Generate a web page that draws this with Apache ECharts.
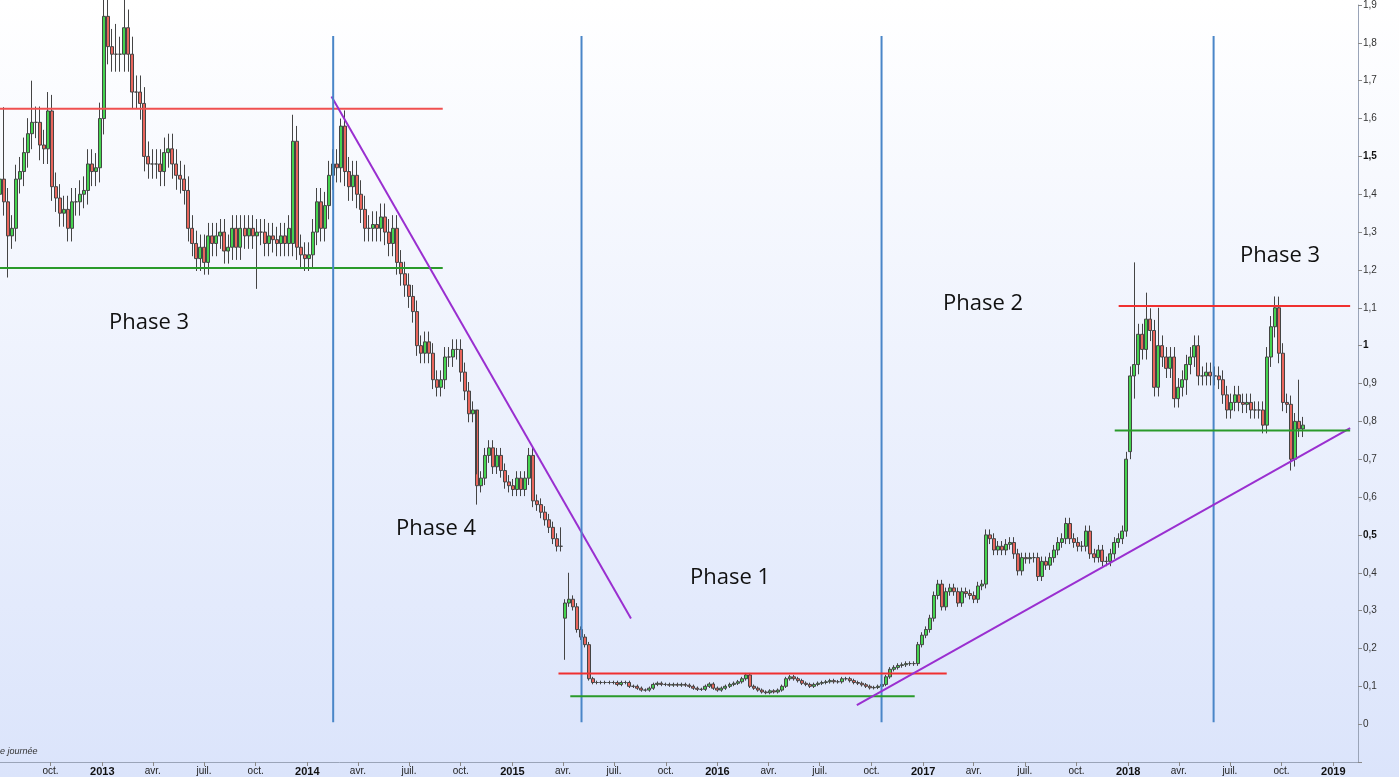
<!DOCTYPE html>
<html><head><meta charset="utf-8">
<script src="https://cdn.jsdelivr.net/npm/echarts@6/dist/echarts.min.js"></script>
<style>html,body{margin:0;padding:0;}#c{width:1399px;height:777px;background:linear-gradient(#ffffff,#dbe4fb);}</style>
</head><body><div id="c"></div>
<script>
const startDate = '2012-07-03';
const stepDays = 7.134;
const closes = [1.44,1.38,1.29,1.31,1.44,1.46,1.51,1.56,1.59,1.59,1.53,1.52,1.62,1.42,1.39,1.35,1.36,1.31,1.38,1.38,
1.40,1.41,1.48,1.46,1.47,1.60,1.87,1.79,1.77,1.77,1.77,1.84,1.77,1.67,1.67,1.64,1.50,1.48,1.48,1.48,
1.46,1.51,1.52,1.48,1.45,1.44,1.41,1.31,1.27,1.23,1.26,1.22,1.29,1.27,1.29,1.30,1.25,1.26,1.31,1.26,
1.31,1.29,1.31,1.29,1.30,1.30,1.27,1.29,1.28,1.27,1.29,1.27,1.31,1.54,1.26,1.24,1.23,1.24,1.30,1.38,
1.31,1.37,1.45,1.48,1.47,1.58,1.46,1.42,1.45,1.40,1.36,1.31,1.31,1.32,1.31,1.34,1.30,1.27,1.31,1.22,
1.19,1.16,1.13,1.09,1.00,0.98,1.01,0.98,0.91,0.89,0.91,0.97,0.97,0.99,0.99,0.93,0.88,0.82,0.83,0.63,
0.65,0.71,0.73,0.68,0.71,0.67,0.64,0.63,0.62,0.65,0.62,0.65,0.71,0.59,0.58,0.56,0.54,0.52,0.49,0.47,
0.47,0.32,0.33,0.31,0.25,0.23,0.21,0.12,0.11,0.11,0.11,0.11,0.11,0.11,0.105,0.11,0.11,0.10,0.10,0.095,
0.09,0.09,0.095,0.105,0.108,0.105,0.105,0.103,0.105,0.103,0.105,0.103,0.10,0.095,0.092,0.092,0.10,0.106,0.095,0.09,
0.095,0.10,0.105,0.108,0.112,0.12,0.13,0.10,0.095,0.09,0.085,0.083,0.088,0.085,0.09,0.10,0.12,0.125,0.12,0.115,
0.108,0.105,0.10,0.105,0.108,0.11,0.112,0.115,0.112,0.112,0.12,0.12,0.115,0.11,0.108,0.104,0.10,0.096,0.097,0.10,
0.105,0.125,0.145,0.15,0.155,0.157,0.16,0.16,0.16,0.21,0.235,0.25,0.28,0.34,0.37,0.31,0.35,0.36,0.35,0.32,
0.35,0.345,0.34,0.33,0.365,0.37,0.50,0.49,0.46,0.47,0.46,0.475,0.48,0.45,0.405,0.44,0.437,0.44,0.44,0.39,
0.43,0.42,0.44,0.46,0.48,0.49,0.53,0.49,0.48,0.47,0.47,0.51,0.45,0.44,0.46,0.43,0.43,0.45,0.48,0.49,
0.51,0.70,0.92,0.95,1.03,0.99,1.07,1.04,0.89,1.00,0.97,0.94,0.97,0.86,0.89,0.91,0.95,0.97,1.00,0.92,
0.92,0.93,0.92,0.92,0.91,0.87,0.83,0.85,0.87,0.85,0.845,0.85,0.83,0.83,0.83,0.79,0.97,1.05,1.10,0.98,
0.85,0.845,0.70,0.80,0.78,0.79];
const firstOpen = 1.40;
const openOverrides = {141:0.28, 282:0.72, 73:1.27, 246:0.37};
const highOverrides = {1:1.63,8:1.70,12:1.67,26:1.93,29:1.85,31:1.92,73:1.61,85:1.60,119:0.66,283:1.22,286:1.14,289:1.10,318:1.13,324:0.91,142:0.40,140:0.52};
const lowOverrides = {2:1.18,64:1.15,119:0.58,141:0.17,322:0.67,283:0.86,296:0.87};
const monthNames = {0:'',3:'avr.',6:'juil.',9:'oct.'};
const lastPrice = 0.7930;

const DAY = 86400000;
const D = s=>new Date(s+'T00:00:00Z').getTime();
const t0 = D(startDate);
const data = closes.map((c,i)=>{
  const o = openOverrides[i] !== undefined ? openOverrides[i] : (i===0 ? firstOpen : closes[i-1]);
  const hi = highOverrides[i] !== undefined ? highOverrides[i] : Math.max(o,c)*1.025+0.002;
  const lo = lowOverrides[i] !== undefined ? lowOverrides[i] : Math.min(o,c)*0.975-0.002;
  return [t0 + i*stepDays*DAY, o, c, lo, hi];
});
const quarterTicks = [];
for (let y=2012;y<=2019;y++) for (let m=0;m<12;m+=3){const t=Date.UTC(y,m,1); if(t>Date.UTC(2012,7,1)&&t<Date.UTC(2019,2,1)) quarterTicks.push(t);}

function seg(name,color,a,b){return {type:'line',name,data:[a,b],symbol:'none',silent:true,animation:false,
  lineStyle:{color,width:2},z:5};}
const lines = [
  seg('r1','#f05050',[D('2012-07-03'),1.626],[D('2014-08-30'),1.626]),
  seg('g1','#2a9a2a',[D('2012-07-03'),1.205],[D('2014-08-30'),1.205]),
  seg('p1','#9a2fd0',[D('2014-02-13'),1.658],[D('2015-07-31'),0.279]),
  seg('b1','#4a86c8',[D('2014-02-16'),1.818],[D('2014-02-16'),0.005]),
  seg('b2','#4a86c8',[D('2015-05-04'),1.818],[D('2015-05-04'),0.005]),
  seg('b3','#4a86c8',[D('2016-10-19'),1.818],[D('2016-10-19'),0.005]),
  seg('b4','#4a86c8',[D('2018-06-02'),1.818],[D('2018-06-02'),0.005]),
  seg('r2','#f03030',[D('2015-03-24'),0.134],[D('2017-02-12'),0.134]),
  seg('g2','#2a9a2a',[D('2015-04-14'),0.074],[D('2016-12-17'),0.074]),
  seg('p2','#9a2fd0',[D('2016-09-05'),0.05],[D('2019-01-31'),0.782]),
  seg('r3','#f03030',[D('2017-12-15'),1.105],[D('2019-01-31'),1.105]),
  seg('g3','#2a9a2a',[D('2017-12-08'),0.776],[D('2019-01-31'),0.776])
];
const chart = echarts.init(document.getElementById('c'));
const phaseStyle = {fontSize:22,fill:'#111',fontFamily:'Open Sans'};
chart.setOption({
  animation:false,
  grid:{left:0,right:41,top:2,bottom:15},
  xAxis:{type:'value',min:D('2012-07-03'),max:D('2019-02-14'),
    axisLine:{onZero:false,lineStyle:{color:'#9aa4b8'}},
    axisTick:{customValues:quarterTicks,length:4,lineStyle:{color:'#888'}},
    axisLabel:{customValues:quarterTicks,fontSize:10,color:'#222',fontFamily:'Liberation Sans Narrow, Liberation Sans',margin:4,
      formatter:v=>{const d=new Date(v);const m=d.getUTCMonth();return m===0?'{b|'+d.getUTCFullYear()+'}':monthNames[m];},
      rich:{b:{fontWeight:'bold',fontSize:11,color:'#111'}}},
    splitLine:{show:false}},
  yAxis:{type:'value',position:'right',min:-0.1,max:1.9,interval:0.1,
    axisLine:{show:true,lineStyle:{color:'#9aa4b8'}},axisTick:{show:true,length:4,lineStyle:{color:'#888'}},
    splitLine:{show:false},
    axisLabel:{fontSize:10,color:'#333',margin:5,formatter:v=>{
      if(v<-0.01) return '';
      const r=Math.round(v*10)/10;
      const s=String(r).replace('.',',');
      return (Math.abs(r-0.5)<1e-6||Math.abs(r-1)<1e-6||Math.abs(r-1.5)<1e-6)?'{b|'+s+'}':s;},
      rich:{b:{fontWeight:'bold',fontSize:10,color:'#111'}}}},
  series:[{type:'candlestick',data:data,barWidth:3.5,z:3,
    itemStyle:{color:'#45d34f',color0:'#e8655c',borderColor:'#444',borderColor0:'#444',borderWidth:1},
    markLine:{symbol:'none',silent:true,data:[{yAxis:lastPrice}],lineStyle:{opacity:0},
      label:{position:'end',formatter:'0,7930',backgroundColor:'#f5c518',color:'#222',fontSize:10,padding:[1,2],borderColor:'#c9a000',borderWidth:1}}},
   ...lines],
  graphic:[
    {type:'text',left:109,top:312,style:Object.assign({text:'Phase 3'},phaseStyle)},
    {type:'text',left:396,top:518,style:Object.assign({text:'Phase 4'},phaseStyle)},
    {type:'text',left:690,top:567,style:Object.assign({text:'Phase 1'},phaseStyle)},
    {type:'text',left:943,top:293,style:Object.assign({text:'Phase 2'},phaseStyle)},
    {type:'text',left:1240,top:245,style:Object.assign({text:'Phase 3'},phaseStyle)},
    {type:'text',left:0,top:747,style:{text:'e journée',fontSize:9,fontStyle:'italic',fill:'#333'}}
  ]
});
</script></body></html>
